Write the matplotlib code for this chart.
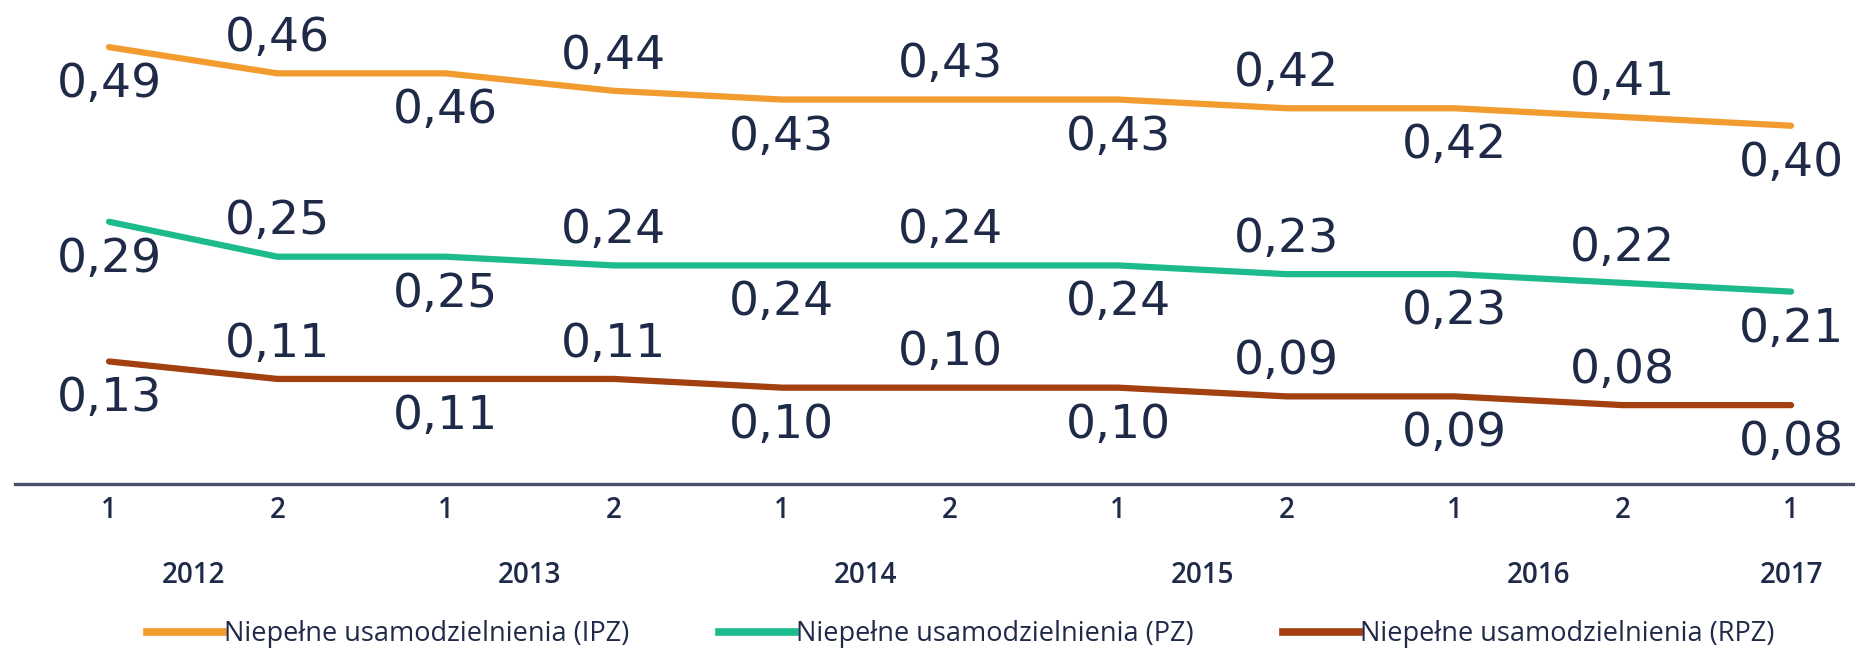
import matplotlib
matplotlib.use("Agg")
import matplotlib.pyplot as plt
from matplotlib.lines import Line2D

# half-year periods, 2012 H1 .. 2017 H1
halves = ['1', '2', '1', '2', '1', '2', '1', '2', '1', '2', '1']
years = ['2012', '2013', '2014', '2015', '2016', '2017']
year_pos = [0.5, 2.5, 4.5, 6.5, 8.5, 10]

ipz = [0.49, 0.46, 0.46, 0.44, 0.43, 0.43, 0.43, 0.42, 0.42, 0.41, 0.40]
pz = [0.29, 0.25, 0.25, 0.24, 0.24, 0.24, 0.24, 0.23, 0.23, 0.22, 0.21]
rpz = [0.13, 0.11, 0.11, 0.11, 0.10, 0.10, 0.10, 0.09, 0.09, 0.08, 0.08]

names = ['Niepełne usamodzielnienia (IPZ)',
         'Niepełne usamodzielnienia (PZ)',
         'Niepełne usamodzielnienia (RPZ)']
colors = ['#f29b2e', '#1dba8b', '#a2400f']

text_col = '#1f2a48'
axis_col = '#4b5068'


def fmt(v):
    return f"{v:.2f}".replace('.', ',')


def main():
    fig = plt.figure(figsize=(18.55, 6.54), dpi=100)
    ax = fig.add_axes([0.008, 0.26, 0.992, 0.74])
    x = list(range(len(halves)))

    for series, c in zip([ipz, pz, rpz], colors):
        ax.plot(x, series, color=c, lw=4.5, solid_capstyle='round')
        for i, v in enumerate(series):
            # labels alternate below / above the line
            dy = -27 if i % 2 == 0 else 25
            ax.annotate(fmt(v), (i, v), xytext=(0, dy), textcoords='offset points',
                        ha='center', va='center', fontsize=34, color=text_col,
                        family='DejaVu Sans', annotation_clip=False)

    ax.set_xlim(-0.56, 10.38)
    ax.set_ylim(-0.0103, 0.544)
    for s in ['top', 'right', 'left']:
        ax.spines[s].set_visible(False)
    ax.spines['bottom'].set_color(axis_col)
    ax.spines['bottom'].set_linewidth(2.4)
    ax.set_yticks([])
    ax.set_xticks(x)
    ax.set_xticklabels(halves, fontsize=20, color=text_col, family='Open Sans',
                       fontweight='semibold')
    ax.tick_params(axis='x', length=0, pad=9)

    for yr, p in zip(years, year_pos):
        ax.annotate(yr, (p, 0), xycoords=('data', 'axes fraction'), xytext=(0, -66),
                    textcoords='offset points', ha='center', va='center',
                    fontsize=20, color=text_col, family='Open Sans',
                    fontweight='semibold', annotation_clip=False)

    handles = [Line2D([], [], color=c, lw=5.5) for c in colors]
    leg = fig.legend(handles, names, loc='center', bbox_to_anchor=(0.518, 0.03),
                     ncol=3, frameon=False, handlelength=2.8, handletextpad=0.05,
                     columnspacing=3.3, prop={'family': 'Open Sans', 'size': 19.5})
    for t in leg.get_texts():
        t.set_color(text_col)

    fig.savefig('out.png', dpi=100, facecolor='white')


if __name__ == "__main__":
    main()
